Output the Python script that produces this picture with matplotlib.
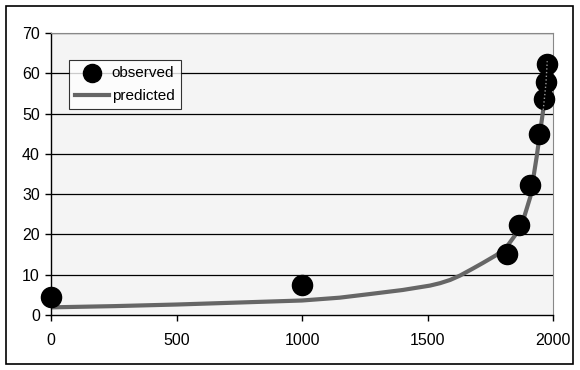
import matplotlib
matplotlib.use("Agg")
import matplotlib.pyplot as plt
from matplotlib.patches import Rectangle

plt.rcParams['font.family'] = ['Liberation Sans', 'DejaVu Sans']

# observed data points
obs_x = [0, 1000, 1815, 1863, 1910, 1945, 1965, 1974, 1978]
obs_y = [4.5, 7.4, 15.2, 22.3, 32.3, 44.9, 53.5, 57.9, 62.2]

# predicted curve
pred_x = [0, 250, 500, 750, 1000, 1150, 1270, 1400, 1510, 1550, 1590, 1630, 1680,
          1720, 1775, 1820, 1855, 1885, 1910, 1935, 1948, 1961, 1972, 1977]
pred_y = [1.9, 2.2, 2.6, 3.1, 3.6, 4.3, 5.2, 6.2, 7.3, 7.9, 8.7, 9.8, 11.5,
          12.9, 14.9, 17.3, 20.3, 24.3, 29.4, 39.3, 45.1, 50.9, 57.5, 63.0]

fig = plt.figure(figsize=(5.8, 3.7), dpi=100)
fig.patch.set_facecolor('white')
fig.patches.append(Rectangle((6/580, 6/370), 567/580, 358/370, transform=fig.transFigure,
                             fill=False, edgecolor='black', linewidth=1.2))

ax = fig.add_axes([51/580, 1-315/370, 502/580, 282/370])
ax.set_facecolor('#f4f4f4')

for yv in range(10, 80, 10):
    ax.axhline(yv, color='black', linewidth=0.9, zorder=1)

ax.plot(pred_x, pred_y, color='#666666', linewidth=3, zorder=2, label='predicted')
ax.scatter(obs_x, obs_y, s=210, color='black', zorder=3, label='observed', clip_on=False)
# faint dotted trace visible over the top markers
ax.plot(pred_x[-3:], pred_y[-3:], color='#999999', linewidth=1, linestyle=':', zorder=4)

ax.set_xlim(0, 2000)
ax.set_ylim(0, 70)
ax.set_xticks([0, 500, 1000, 1500, 2000])
ax.set_yticks(range(0, 80, 10))
ax.tick_params(axis='both', direction='out', length=4, width=1, labelsize=11.5, colors='black')
ax.tick_params(axis='x', pad=9)
ax.tick_params(axis='y', pad=4)

for s in ['top', 'right']:
    ax.spines[s].set_color('#888888')
    ax.spines[s].set_linewidth(0.8)
for s in ['left', 'bottom']:
    ax.spines[s].set_color('black')
    ax.spines[s].set_linewidth(1)

h, l = ax.get_legend_handles_labels()
leg = ax.legend([h[1], h[0]], [l[1], l[0]], loc='upper left',
                bbox_to_anchor=(69/580, 1-60/370), bbox_transform=fig.transFigure,
                fontsize=11, frameon=True, fancybox=False, borderpad=0.4,
                handlelength=2.2, handletextpad=0.2, labelspacing=0.6,
                borderaxespad=0, markerscale=0.9)
leg.get_frame().set_edgecolor('black')
leg.get_frame().set_linewidth(0.8)
leg.get_frame().set_facecolor('white')

fig.savefig('out.png', dpi=100)
